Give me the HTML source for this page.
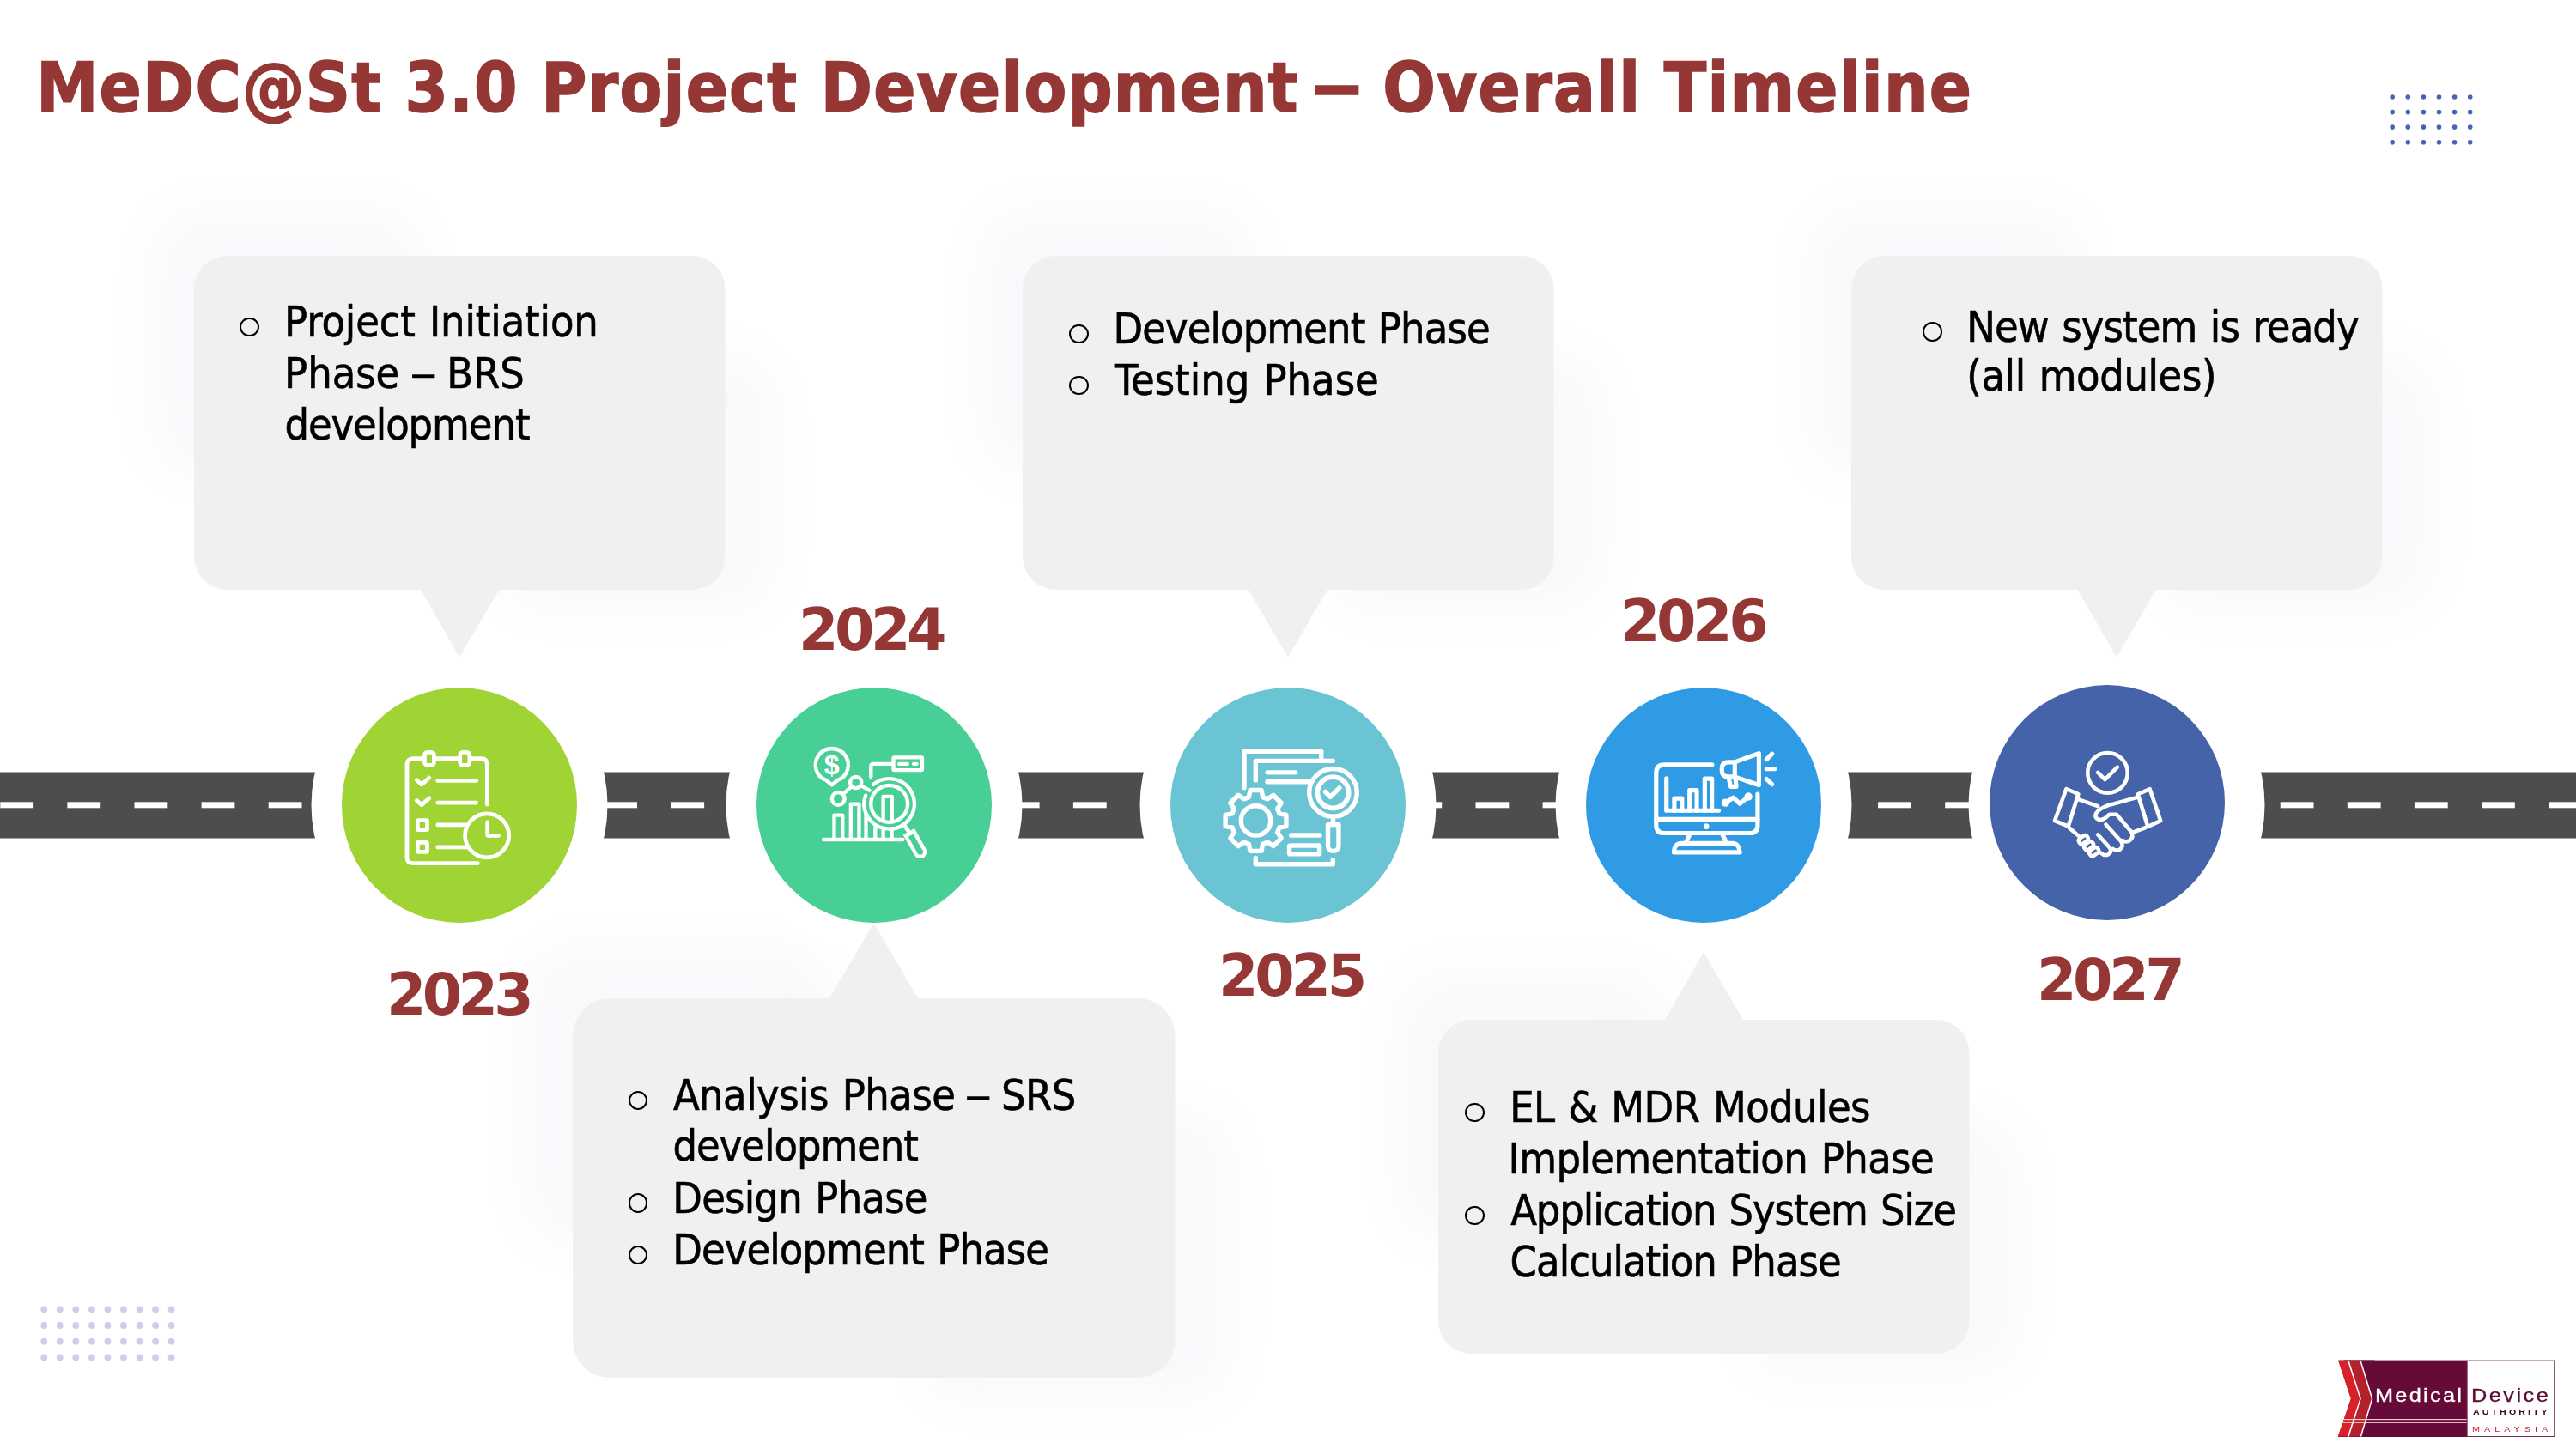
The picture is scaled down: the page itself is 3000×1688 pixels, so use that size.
<!DOCTYPE html><html lang="en"><head><meta charset="utf-8"><title>MeDC@St 3.0 Project Development – Overall Timeline</title><style>
html,body{margin:0;padding:0;background:#fff}
#s{position:relative;width:3000px;height:1688px;overflow:hidden;background:#fff;font-family:"DejaVu Sans Condensed","DejaVu Sans","Liberation Sans",sans-serif}
.t{position:absolute;white-space:nowrap;margin:0;padding:0;transform-origin:left top}
.title{font-weight:bold;font-size:80.6px;color:#953735;-webkit-text-stroke:1.5px #953735}
.yr{font-weight:bold;font-size:67.5px;color:#953735;transform:scaleX(1.10)}
.b{font-size:50px;color:#000;word-spacing:2px;-webkit-text-stroke:0.6px #000}
.dt{display:inline-block;transform:scaleX(1.7);position:relative;top:-3px;margin-right:7px}
.db{display:inline-block;transform:scaleX(1.4)}
.o{position:absolute;width:18.4px;height:18.4px;border:2.4px solid #000;border-radius:50%;display:block}
ul,li{list-style:none;margin:0;padding:0}
.title,.yr,.b{font-stretch:condensed}
.lg{font-family:"Liberation Sans",sans-serif}
.lgm{font-size:22px;color:#fff;transform:scaleX(1.15);-webkit-text-stroke:0.3px #fff}
.lgd{font-size:22px;color:#5e0a34;transform:scaleX(1.15);-webkit-text-stroke:0.3px #5e0a34}
.lga{font-size:9.3px;font-weight:bold;color:#3a0a22;transform:scaleX(1.15)}
.lgy{font-size:9.4px;color:#c4202c;transform:scaleX(1.15)}
</style></head><body><div id="s">
<svg width="3000" height="1688" viewBox="0 0 3000 1688" style="position:absolute;left:0;top:0">
<defs><filter id="gl" x="-50%" y="-50%" width="200%" height="200%"><feGaussianBlur stdDeviation="28"/></filter></defs>
<g fill="#6f83b5" opacity="0.045" filter="url(#gl)"><rect x="176" y="243" width="320" height="310" rx="60"/><rect x="580" y="412" width="325" height="300" rx="60"/><rect x="1141" y="243" width="320" height="310" rx="60"/><rect x="1544" y="412" width="325" height="300" rx="60"/><rect x="2106" y="243" width="320" height="310" rx="60"/><rect x="2510" y="412" width="325" height="300" rx="60"/><rect x="610" y="1101" width="362" height="350" rx="60"/><rect x="1069" y="1294" width="367" height="339" rx="60"/><rect x="1625" y="1133" width="320" height="310" rx="60"/><rect x="2028" y="1302" width="325" height="300" rx="60"/></g>
<rect x="0" y="899.5" width="3000" height="77" fill="#4d4d4d"/>
<rect x="0.3" y="934.3" width="38.8" height="7" fill="#fff"/><rect x="78.4" y="934.3" width="38.8" height="7" fill="#fff"/><rect x="156.5" y="934.3" width="38.8" height="7" fill="#fff"/><rect x="234.6" y="934.3" width="38.8" height="7" fill="#fff"/><rect x="312.7" y="934.3" width="38.8" height="7" fill="#fff"/><rect x="390.8" y="934.3" width="38.8" height="7" fill="#fff"/><rect x="468.9" y="934.3" width="38.8" height="7" fill="#fff"/><rect x="547.0" y="934.3" width="38.8" height="7" fill="#fff"/><rect x="625.1" y="934.3" width="38.8" height="7" fill="#fff"/><rect x="703.2" y="934.3" width="38.8" height="7" fill="#fff"/><rect x="781.3" y="934.3" width="38.8" height="7" fill="#fff"/><rect x="859.4" y="934.3" width="38.8" height="7" fill="#fff"/><rect x="937.5" y="934.3" width="38.8" height="7" fill="#fff"/><rect x="1015.6" y="934.3" width="38.8" height="7" fill="#fff"/><rect x="1093.7" y="934.3" width="38.8" height="7" fill="#fff"/><rect x="1171.8" y="934.3" width="38.8" height="7" fill="#fff"/><rect x="1249.9" y="934.3" width="38.8" height="7" fill="#fff"/><rect x="1328.0" y="934.3" width="38.8" height="7" fill="#fff"/><rect x="1406.1" y="934.3" width="38.8" height="7" fill="#fff"/><rect x="1484.2" y="934.3" width="38.8" height="7" fill="#fff"/><rect x="1562.3" y="934.3" width="38.8" height="7" fill="#fff"/><rect x="1640.4" y="934.3" width="38.8" height="7" fill="#fff"/><rect x="1718.5" y="934.3" width="38.8" height="7" fill="#fff"/><rect x="1796.6" y="934.3" width="38.8" height="7" fill="#fff"/><rect x="1874.7" y="934.3" width="38.8" height="7" fill="#fff"/><rect x="1952.8" y="934.3" width="38.8" height="7" fill="#fff"/><rect x="2030.9" y="934.3" width="38.8" height="7" fill="#fff"/><rect x="2109.0" y="934.3" width="38.8" height="7" fill="#fff"/><rect x="2187.1" y="934.3" width="38.8" height="7" fill="#fff"/><rect x="2265.2" y="934.3" width="38.8" height="7" fill="#fff"/><rect x="2343.3" y="934.3" width="38.8" height="7" fill="#fff"/><rect x="2421.4" y="934.3" width="38.8" height="7" fill="#fff"/><rect x="2499.5" y="934.3" width="38.8" height="7" fill="#fff"/><rect x="2577.6" y="934.3" width="38.8" height="7" fill="#fff"/><rect x="2655.7" y="934.3" width="38.8" height="7" fill="#fff"/><rect x="2733.8" y="934.3" width="38.8" height="7" fill="#fff"/><rect x="2811.9" y="934.3" width="38.8" height="7" fill="#fff"/><rect x="2890.0" y="934.3" width="38.8" height="7" fill="#fff"/><rect x="2968.1" y="934.3" width="38.8" height="7" fill="#fff"/>
<circle cx="535" cy="938" r="172.5" fill="#fff"/>
<circle cx="1018" cy="938" r="172.5" fill="#fff"/>
<circle cx="1500" cy="938" r="172.5" fill="#fff"/>
<circle cx="1984" cy="938" r="172.5" fill="#fff"/>
<circle cx="2465" cy="938" r="172.5" fill="#fff"/>
<g class="boxes">
<path d="M264.5 298 H806.0 A38.5 38.5 0 0 1 844.5 336.5 V648.5 A38.5 38.5 0 0 1 806.0 687 H581.5 L535 765.5 L490 687 H264.5 A38.5 38.5 0 0 1 226 648.5 V336.5 A38.5 38.5 0 0 1 264.5 298 Z" fill="#f0f0f0"/>
<path d="M1229.5 298 H1771.0 A38.5 38.5 0 0 1 1809.5 336.5 V648.5 A38.5 38.5 0 0 1 1771.0 687 H1545.8 L1500 765.5 L1453.6 687 H1229.5 A38.5 38.5 0 0 1 1191 648.5 V336.5 A38.5 38.5 0 0 1 1229.5 298 Z" fill="#f0f0f0"/>
<path d="M2194.5 298 H2736.0 A38.5 38.5 0 0 1 2774.5 336.5 V648.5 A38.5 38.5 0 0 1 2736.0 687 H2511 L2465 765.5 L2419.5 687 H2194.5 A38.5 38.5 0 0 1 2156 648.5 V336.5 A38.5 38.5 0 0 1 2194.5 298 Z" fill="#f0f0f0"/>
<path d="M710.7 1163 H966 L1017.5 1075 L1069 1163 H1324.8 A43.7 43.7 0 0 1 1368.5 1206.7 V1561.3 A43.7 43.7 0 0 1 1324.8 1605 H710.7 A43.7 43.7 0 0 1 667 1561.3 V1206.7 A43.7 43.7 0 0 1 710.7 1163 Z" fill="#f0f0f0"/>
<path d="M1713.5 1188 H1939 L1984 1109 L2030 1188 H2255.0 A38.5 38.5 0 0 1 2293.5 1226.5 V1538.5 A38.5 38.5 0 0 1 2255.0 1577 H1713.5 A38.5 38.5 0 0 1 1675 1538.5 V1226.5 A38.5 38.5 0 0 1 1713.5 1188 Z" fill="#f0f0f0"/>
</g>
<circle cx="535" cy="938" r="137" fill="#a0d334"/>
<circle cx="1018" cy="938" r="137" fill="#47cf95"/>
<circle cx="1500" cy="938" r="137" fill="#6bc4d3"/>
<circle cx="1984" cy="938" r="137" fill="#2f9be5"/>
<circle cx="2454" cy="935" r="137" fill="#4463a8"/>
<g transform="translate(460 860) scale(0.10352)" fill="none" stroke="#fff" stroke-width="46" stroke-linecap="round" stroke-linejoin="round">
<path d="M1037 745 V298 Q1037 228 967 228 H860 M710 228 H460 M310 228 H205 Q135 228 135 298 V1337 Q135 1407 205 1407 H930"/>
<rect x="333" y="158" width="106" height="144" rx="30"/>
<rect x="731" y="158" width="108" height="144" rx="30"/>
<path d="M245 470 L300 522 L385 445 M245 700 L300 752 L385 675"/>
<path d="M480 477 H915 M480 725 H915 M480 975 H800 M480 1225 H810"/>
<rect x="255" y="923" width="107" height="106" rx="6"/>
<rect x="255" y="1173" width="107" height="106" rx="6"/>
<circle cx="1035" cy="1095" r="247" fill="#a0d334"/>
<path d="M1040 945 V1095 H1165"/>
</g>
<g transform="translate(940 860) scale(0.10352)" fill="none" stroke="#fff" stroke-width="42" stroke-linecap="round" stroke-linejoin="round">
<path d="M185 1140 H1075"/>
<path d="M304 1120 V866 H399 V1120 M491 1120 V741 H584 V1120 M662 1120 V700"/>
<path d="M766 1120 V1000 M856 1120 V1000 M952 1120 V1000"/>
<line x1="1090" y1="975" x2="1150" y2="1060" stroke-width="46"/>
<line x1="1143" y1="1051" x2="1272" y2="1280" stroke-width="148" stroke-linecap="butt"/>
<circle cx="1272" cy="1280" r="74" fill="#fff" stroke="none"/>
<line x1="1166" y1="1092" x2="1272" y2="1280" stroke="#47cf95" stroke-width="64" stroke-linecap="butt"/>
<circle cx="1272" cy="1280" r="32" fill="#47cf95" stroke="none"/>
<circle cx="924" cy="738" r="282" fill="#47cf95" stroke="none"/>
<path d="M745 520 A282 282 0 1 1 658 644"/>
<circle cx="924" cy="738" r="207"/>
<path d="M856 925 V656 H954 V925"/>
<path d="M215 473 A184 184 0 1 1 341 473 L278 525 Z"/>
<text x="278" y="405" font-family="Liberation Sans, sans-serif" font-weight="bold" font-size="310" text-anchor="middle" fill="#fff" stroke="none">$</text>
<circle cx="350" cy="680" r="71"/>
<circle cx="548" cy="497" r="64"/>
<path d="M405 628 L497 545 M605 535 L700 585"/>
<rect x="971" y="216" width="323" height="143" rx="8"/>
<path d="M1035 288 H1128 M1198 288 H1232"/>
<path d="M950 288 H745 Q718 288 718 315 V435"/>
</g>
<g transform="translate(1415 865) scale(0.11732)" fill="none" stroke="#fff" stroke-width="46" stroke-linecap="round" stroke-linejoin="round">
<path d="M290 450 V88 H1055 V150"/>
<path d="M403 375 V182 H1170"/>
<path d="M403 1145 V1208 H1170 V1165"/>
<path d="M520 297 H800 M520 390 H940"/>
<path d="M336.0 542.0 L349.1 473.1 L460.9 473.1 L474.0 542.0 A243 243 0 0 1 520.9 561.4 L578.9 522.0 L658.0 601.1 L618.6 659.1 A243 243 0 0 1 638.0 706.0 L706.9 719.1 L706.9 830.9 L638.0 844.0 A243 243 0 0 1 618.6 890.9 L658.0 948.9 L578.9 1028.0 L520.9 988.6 A243 243 0 0 1 474.0 1008.0 L460.9 1076.9 L349.1 1076.9 L336.0 1008.0 A243 243 0 0 1 289.1 988.6 L231.1 1028.0 L152.0 948.9 L191.4 890.9 A243 243 0 0 1 172.0 844.0 L103.1 830.9 L103.1 719.1 L172.0 706.0 A243 243 0 0 1 191.4 659.1 L152.0 601.1 L231.1 522.0 L289.1 561.4 A243 243 0 0 1 336.0 542.0 Z" fill="#6bc4d3"/>
<circle cx="405" cy="775" r="147"/>
<path d="M1172 735 V815"/>
<path d="M1121 815 H1227 M1121 815 V1024 A53 53 0 0 0 1227 1024 V815"/>
<circle cx="1172" cy="497" r="237" fill="#6bc4d3"/>
<circle cx="1172" cy="497" r="155" stroke-width="50"/>
<path d="M1095 490 L1145 540 L1235 450"/>
<path d="M755 920 H1040"/>
<rect x="738" y="1023" width="299" height="84" rx="8"/>
</g>
<g transform="translate(1910 860) scale(0.11732)" fill="none" stroke="#fff" stroke-width="44" stroke-linecap="round" stroke-linejoin="round">
<path d="M715 263 H240 Q160 263 160 343 V862 Q160 942 240 942 H1087 Q1167 942 1167 862 V555"/>
<path d="M160 805 H1167"/>
<circle cx="658" cy="875" r="28" fill="#fff" stroke="none"/>
<path d="M490 960 L455 1040 M820 960 L860 1040"/>
<path d="M400 1043 H925 Q985 1050 990 1132 H335 Q340 1050 400 1043 Z"/>
<path d="M262 400 V718 H780"/>
<path d="M340 718 V598 H416 V718 M492 718 V517 H563 V718 M642 718 V402 H713 V718"/>
<circle cx="848" cy="640" r="40" fill="#fff" stroke="none"/>
<circle cx="1075" cy="580" r="40" fill="#fff" stroke="none"/>
<path d="M848 640 L925 590 L990 650 L1075 580"/>
<path d="M940 237 H880 Q812 237 812 300 V322 Q812 383 880 383 H940"/>
<path d="M940 237 L1180 150 V465 L940 383 Z"/>
<path d="M880 392 L898 480 H955 L945 392"/>
<path d="M1255 210 L1310 155 M1255 305 H1335 M1255 405 L1310 458"/>
</g>
<g transform="translate(2380 860) scale(0.10352)" fill="none" stroke="#fff" stroke-width="44" stroke-linecap="round" stroke-linejoin="round">
<circle cx="720" cy="390" r="225"/>
<path d="M610 385 L690 465 L830 325"/>
<path d="M255 570 L390 628 L278 992 L125 928 Z"/>
<path d="M1195 572 L1060 630 L1172 995 L1315 928 Z"/>
<path d="M395 690 L610 765"/>
<path d="M1045 668 L790 738 Q690 755 615 815 Q560 865 600 905 Q640 935 690 900 L740 858 H820 L985 1050 Q1020 1110 970 1150 Q925 1175 885 1150"/>
<path d="M1145 1005 L1005 1060"/>
<path d="M700 970 L870 1160 Q905 1215 860 1250 Q815 1275 780 1245"/>
<path d="M610 1085 L745 1235 Q770 1285 725 1310 Q680 1325 645 1290"/>
<path d="M290 1010 L395 1100"/>
<g transform="translate(447 1141) rotate(-36)"><rect x="-55" y="-35" width="110" height="70" rx="28"/></g>
<g transform="translate(508 1209) rotate(-36)"><rect x="-55" y="-35" width="110" height="70" rx="28"/></g>
<g transform="translate(567 1277) rotate(-36)"><rect x="-55" y="-35" width="110" height="70" rx="28"/></g>
</g>
<g fill="#4464ad"><circle cx="2786.2" cy="113.0" r="2.8"/><circle cx="2804.3" cy="113.0" r="2.8"/><circle cx="2822.4" cy="113.0" r="2.8"/><circle cx="2840.5" cy="113.0" r="2.8"/><circle cx="2858.6" cy="113.0" r="2.8"/><circle cx="2876.7" cy="113.0" r="2.8"/><circle cx="2786.2" cy="130.6" r="2.8"/><circle cx="2804.3" cy="130.6" r="2.8"/><circle cx="2822.4" cy="130.6" r="2.8"/><circle cx="2840.5" cy="130.6" r="2.8"/><circle cx="2858.6" cy="130.6" r="2.8"/><circle cx="2876.7" cy="130.6" r="2.8"/><circle cx="2786.2" cy="148.1" r="2.8"/><circle cx="2804.3" cy="148.1" r="2.8"/><circle cx="2822.4" cy="148.1" r="2.8"/><circle cx="2840.5" cy="148.1" r="2.8"/><circle cx="2858.6" cy="148.1" r="2.8"/><circle cx="2876.7" cy="148.1" r="2.8"/><circle cx="2786.2" cy="165.7" r="2.8"/><circle cx="2804.3" cy="165.7" r="2.8"/><circle cx="2822.4" cy="165.7" r="2.8"/><circle cx="2840.5" cy="165.7" r="2.8"/><circle cx="2858.6" cy="165.7" r="2.8"/><circle cx="2876.7" cy="165.7" r="2.8"/></g>
<g fill="#d0cde8"><circle cx="51.2" cy="1525.3" r="3.9"/><circle cx="69.8" cy="1525.3" r="3.9"/><circle cx="88.3" cy="1525.3" r="3.9"/><circle cx="106.9" cy="1525.3" r="3.9"/><circle cx="125.4" cy="1525.3" r="3.9"/><circle cx="143.9" cy="1525.3" r="3.9"/><circle cx="162.5" cy="1525.3" r="3.9"/><circle cx="181.1" cy="1525.3" r="3.9"/><circle cx="199.6" cy="1525.3" r="3.9"/><circle cx="51.2" cy="1544.0" r="3.9"/><circle cx="69.8" cy="1544.0" r="3.9"/><circle cx="88.3" cy="1544.0" r="3.9"/><circle cx="106.9" cy="1544.0" r="3.9"/><circle cx="125.4" cy="1544.0" r="3.9"/><circle cx="143.9" cy="1544.0" r="3.9"/><circle cx="162.5" cy="1544.0" r="3.9"/><circle cx="181.1" cy="1544.0" r="3.9"/><circle cx="199.6" cy="1544.0" r="3.9"/><circle cx="51.2" cy="1562.7" r="3.9"/><circle cx="69.8" cy="1562.7" r="3.9"/><circle cx="88.3" cy="1562.7" r="3.9"/><circle cx="106.9" cy="1562.7" r="3.9"/><circle cx="125.4" cy="1562.7" r="3.9"/><circle cx="143.9" cy="1562.7" r="3.9"/><circle cx="162.5" cy="1562.7" r="3.9"/><circle cx="181.1" cy="1562.7" r="3.9"/><circle cx="199.6" cy="1562.7" r="3.9"/><circle cx="51.2" cy="1581.4" r="3.9"/><circle cx="69.8" cy="1581.4" r="3.9"/><circle cx="88.3" cy="1581.4" r="3.9"/><circle cx="106.9" cy="1581.4" r="3.9"/><circle cx="125.4" cy="1581.4" r="3.9"/><circle cx="143.9" cy="1581.4" r="3.9"/><circle cx="162.5" cy="1581.4" r="3.9"/><circle cx="181.1" cy="1581.4" r="3.9"/><circle cx="199.6" cy="1581.4" r="3.9"/></g>
<rect x="2729.8" y="1584.6" width="143.4" height="89.4" fill="#660a38"/>
<polygon points="2721.8,1584.6 2765.6,1584.6 2765.6,1674.0 2721.8,1674.0" fill="#660a38"/>
<polygon points="2720.7,1583.9 2723.1,1583.9 2737.9,1629.5 2722.7,1674.5 2720.7,1674.5" fill="#fff"/>
<polygon points="2723.1,1585.0 2733.9,1585.0 2748.2,1629.5 2733.9,1673.4 2722.7,1673.4 2737.9,1629.5" fill="#d8202a"/>
<polygon points="2733.9,1585.0 2737.2,1585.0 2751.1,1629.5 2737.2,1673.4 2733.9,1673.4 2748.2,1629.5" fill="#fff"/>
<polygon points="2735.7,1585.0 2748.7,1585.0 2762.3,1629.5 2748.7,1673.4 2735.7,1673.4 2749.8,1629.5" fill="#b4202c"/>
<polygon points="2748.2,1585.0 2749.8,1585.0 2763.4,1629.5 2750.2,1673.4 2748.6,1673.4 2761.8,1629.5" fill="#fff"/>
<rect x="2726.7" y="1653.0" width="146.5" height="1.2" fill="#f3c9cf"/>
<rect x="2726.7" y="1656.7" width="146.5" height="1.2" fill="#f3c9cf"/>
<rect x="2873.2" y="1585.1" width="101.5" height="88.4" fill="#fff" stroke="#7b2a4e" stroke-width="1"/>
</svg>
<h1 class="t title" style="left:42.2px;top:54.0px;line-height:96.7px;letter-spacing:1.24px">MeDC@St 3.0 Project Development <span class="dt">–</span> Overall Timeline</h1>
<div class="t yr" style="left:449.9px;top:1117.9px;line-height:81.0px;letter-spacing:-4.27px">2023</div>
<div class="t yr" style="left:929.9px;top:693.0px;line-height:81.0px;letter-spacing:-4.09px">2024</div>
<div class="t yr" style="left:1418.7px;top:1095.9px;line-height:81.0px;letter-spacing:-3.82px">2025</div>
<div class="t yr" style="left:1887.0px;top:683.0px;line-height:81.0px;letter-spacing:-4.03px">2026</div>
<div class="t yr" style="left:2372.0px;top:1100.8px;line-height:81.0px;letter-spacing:-3.97px">2027</div>
<ul>
<li><i class="o" style="left:279.4px;top:370.0px"></i> <span class="t b" style="left:331.1px;top:345.1px;line-height:60.0px;letter-spacing:-0.14px">Project Initiation</span> <span class="t b" style="left:331.1px;top:404.9px;line-height:60.0px;letter-spacing:-0.03px">Phase <span class="db">–</span> BRS</span> <span class="t b" style="left:331.4px;top:464.7px;line-height:60.0px;letter-spacing:-1.06px">development</span></li>
</ul>
<ul>
<li><i class="o" style="left:1245.2px;top:377.7px"></i> <span class="t b" style="left:1296.4px;top:352.8px;line-height:60.0px;letter-spacing:-0.89px">Development Phase</span></li>
<li><i class="o" style="left:1245.2px;top:437.6px"></i> <span class="t b" style="left:1298.0px;top:412.7px;line-height:60.0px;letter-spacing:-0.01px">Testing Phase</span></li>
</ul>
<ul>
<li><i class="o" style="left:2239.2px;top:375.4px"></i> <span class="t b" style="left:2290.3px;top:350.5px;line-height:60.0px;letter-spacing:-0.89px">New system is ready</span> <span class="t b" style="left:2290.3px;top:408.0px;line-height:60.0px;letter-spacing:-0.40px">(all modules)</span></li>
</ul>
<ul>
<li><i class="o" style="left:731.5px;top:1270.5px"></i> <span class="t b" style="left:783.9px;top:1245.6px;line-height:60.0px;letter-spacing:-0.53px">Analysis Phase <span class="db">–</span> SRS</span> <span class="t b" style="left:783.5px;top:1305.4px;line-height:60.0px;letter-spacing:-1.03px">development</span></li>
<li><i class="o" style="left:731.5px;top:1390.4px"></i> <span class="t b" style="left:783.3px;top:1365.5px;line-height:60.0px;letter-spacing:-0.80px">Design Phase</span></li>
<li><i class="o" style="left:731.5px;top:1450.5px"></i> <span class="t b" style="left:783.3px;top:1425.6px;line-height:60.0px;letter-spacing:-0.93px">Development Phase</span></li>
</ul>
<ul>
<li><i class="o" style="left:1706.4px;top:1284.7px"></i> <span class="t b" style="left:1758.2px;top:1259.8px;line-height:60.0px;letter-spacing:-0.59px">EL &amp; MDR Modules</span> <span class="t b" style="left:1756.6px;top:1320.1px;line-height:60.0px;letter-spacing:-0.62px">Implementation Phase</span></li>
<li><i class="o" style="left:1706.4px;top:1404.6px"></i> <span class="t b" style="left:1759.2px;top:1379.7px;line-height:60.0px;letter-spacing:-1.10px">Application System Size</span> <span class="t b" style="left:1758.6px;top:1439.6px;line-height:60.0px;letter-spacing:-0.97px">Calculation Phase</span></li>
</ul>
<div class="logo">
<span class="t lg lgm" style="left:2766.2px;top:1613.3px;line-height:26.4px;letter-spacing:1.99px">Medical</span>
<span class="t lg lgd" style="left:2877.8px;top:1613.3px;line-height:26.4px;letter-spacing:2.16px">Device</span>
<span class="t lg lga" style="left:2879.8px;top:1639.8px;line-height:11.2px;letter-spacing:2.65px">AUTHORITY</span>
<span class="t lg lgy" style="left:2878.8px;top:1658.9px;line-height:11.3px;letter-spacing:4.36px">MALAYSIA</span>
</div>
</div></body></html>
